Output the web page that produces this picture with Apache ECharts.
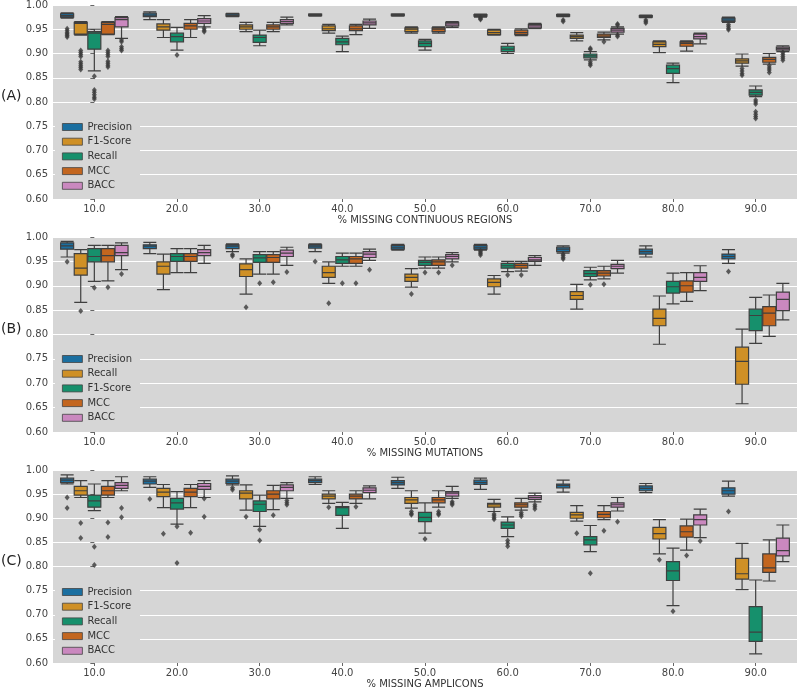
<!DOCTYPE html>
<html><head><meta charset="utf-8">
<script src="https://cdn.jsdelivr.net/npm/echarts@6/dist/echarts.min.js"></script>
<style>html,body{margin:0;padding:0;background:#fff}#c{width:798px;height:690px}</style>
</head><body><div id="c"></div>
<script>
const categories = ['10.0','20.0','30.0','40.0','50.0','60.0','70.0','80.0','90.0'];
const namesA = ['Precision','F1-Score','Recall','MCC','BACC'];
const namesB = ['Precision','Recall','F1-Score','MCC','BACC'];
const namesC = ['Precision','F1-Score','Recall','MCC','BACC'];
const axisNames = ['% MISSING CONTINUOUS REGIONS','% MISSING MUTATIONS','% MISSING AMPLICONS'];
const panelLabels = ['(A)','(B)','(C)'];
const yTicks = [0.60,0.65,0.70,0.75,0.80,0.85,0.90,0.95,1.00];

// boxes: [min, Q1, median, Q3, max]
const A_prec = [[0.973,0.975,0.978,0.982,0.984],[0.970,0.976,0.979,0.983,0.986],[0.976,0.977,0.979,0.982,0.983],[0.977,0.978,0.979,0.981,0.982],[0.977,0.978,0.979,0.981,0.982],[0.975,0.977,0.979,0.980,0.981],[0.976,0.977,0.978,0.980,0.981],[0.974,0.975,0.976,0.978,0.979],[0.964,0.966,0.969,0.973,0.975]];
const A_f1 = [[0.938,0.940,0.962,0.964,0.966],[0.933,0.948,0.955,0.961,0.970],[0.945,0.950,0.955,0.959,0.964],[0.942,0.947,0.951,0.957,0.960],[0.942,0.945,0.950,0.953,0.955],[0.938,0.939,0.943,0.948,0.950],[0.926,0.931,0.935,0.938,0.943],[0.902,0.914,0.919,0.924,0.926],[0.874,0.880,0.885,0.889,0.899]];
const A_rec = [[0.864,0.909,0.942,0.945,0.950],[0.907,0.924,0.935,0.942,0.954],[0.916,0.923,0.933,0.938,0.948],[0.904,0.918,0.924,0.931,0.936],[0.907,0.914,0.921,0.926,0.929],[0.900,0.904,0.909,0.915,0.921],[0.887,0.891,0.895,0.899,0.904],[0.840,0.859,0.869,0.876,0.880],[0.811,0.814,0.820,0.825,0.833]];
const A_mcc = [[0.939,0.940,0.960,0.964,0.966],[0.933,0.950,0.957,0.962,0.970],[0.945,0.950,0.955,0.959,0.964],[0.939,0.947,0.951,0.957,0.960],[0.942,0.945,0.950,0.953,0.955],[0.937,0.939,0.943,0.948,0.951],[0.928,0.933,0.936,0.940,0.944],[0.905,0.915,0.921,0.924,0.926],[0.878,0.882,0.888,0.892,0.900]];
const A_bacc = [[0.931,0.955,0.970,0.974,0.976],[0.955,0.962,0.967,0.972,0.978],[0.959,0.962,0.966,0.970,0.975],[0.952,0.959,0.963,0.967,0.971],[0.954,0.957,0.961,0.964,0.966],[0.951,0.953,0.957,0.960,0.962],[0.940,0.944,0.948,0.952,0.955],[0.920,0.930,0.935,0.940,0.942],[0.904,0.907,0.910,0.913,0.916]];

const B_prec = [[0.959,0.975,0.982,0.988,0.991],[0.966,0.976,0.981,0.984,0.989],[0.970,0.976,0.981,0.984,0.986],[0.970,0.977,0.981,0.984,0.986],[0.973,0.975,0.979,0.983,0.985],[0.973,0.975,0.979,0.983,0.985],[0.967,0.970,0.975,0.979,0.982],[0.959,0.965,0.970,0.975,0.982],[0.946,0.955,0.960,0.965,0.974]];
const B_rec = [[0.866,0.922,0.936,0.966,0.974],[0.892,0.924,0.940,0.949,0.965],[0.883,0.919,0.933,0.945,0.955],[0.905,0.917,0.927,0.940,0.949],[0.897,0.909,0.917,0.924,0.935],[0.883,0.898,0.907,0.914,0.921],[0.852,0.872,0.880,0.888,0.903],[0.780,0.818,0.833,0.852,0.879],[0.658,0.698,0.745,0.774,0.811]];
const B_f1 = [[0.909,0.949,0.960,0.976,0.983],[0.927,0.950,0.960,0.966,0.976],[0.924,0.948,0.957,0.964,0.970],[0.940,0.946,0.953,0.960,0.967],[0.936,0.942,0.948,0.952,0.959],[0.929,0.936,0.941,0.946,0.950],[0.912,0.919,0.925,0.931,0.938],[0.863,0.885,0.898,0.909,0.926],[0.782,0.808,0.839,0.852,0.876]];
const B_mcc = [[0.910,0.949,0.962,0.976,0.983],[0.927,0.950,0.960,0.966,0.976],[0.924,0.948,0.958,0.964,0.970],[0.940,0.946,0.955,0.960,0.967],[0.936,0.942,0.949,0.953,0.959],[0.930,0.936,0.942,0.946,0.950],[0.914,0.920,0.926,0.931,0.940],[0.868,0.887,0.900,0.910,0.927],[0.796,0.818,0.844,0.857,0.881]];
const B_bacc = [[0.933,0.962,0.968,0.983,0.988],[0.946,0.962,0.968,0.974,0.983],[0.942,0.960,0.967,0.973,0.979],[0.952,0.958,0.965,0.970,0.975],[0.949,0.955,0.960,0.964,0.968],[0.942,0.950,0.953,0.958,0.962],[0.926,0.935,0.940,0.944,0.952],[0.890,0.909,0.917,0.927,0.941],[0.830,0.849,0.872,0.887,0.905]];

const C_prec = [[0.971,0.974,0.979,0.983,0.990],[0.964,0.971,0.977,0.981,0.986],[0.969,0.972,0.977,0.981,0.988],[0.970,0.974,0.978,0.981,0.986],[0.962,0.969,0.974,0.978,0.985],[0.960,0.970,0.974,0.979,0.983],[0.954,0.963,0.968,0.971,0.979],[0.953,0.957,0.962,0.967,0.972],[0.946,0.950,0.957,0.963,0.977]];
const C_f1 = [[0.943,0.948,0.957,0.966,0.978],[0.922,0.945,0.954,0.962,0.970],[0.917,0.940,0.952,0.957,0.969],[0.931,0.940,0.946,0.950,0.957],[0.921,0.931,0.938,0.943,0.957],[0.914,0.923,0.928,0.931,0.939],[0.894,0.900,0.907,0.912,0.926],[0.826,0.857,0.868,0.881,0.897],[0.752,0.774,0.785,0.817,0.848]];
const C_rec = [[0.916,0.923,0.936,0.948,0.971],[0.888,0.919,0.932,0.941,0.955],[0.883,0.914,0.929,0.936,0.948],[0.879,0.906,0.922,0.924,0.933],[0.869,0.893,0.902,0.912,0.932],[0.862,0.879,0.886,0.892,0.903],[0.831,0.845,0.855,0.862,0.885],[0.719,0.771,0.791,0.810,0.838],[0.619,0.645,0.664,0.717,0.772]];
const C_mcc = [[0.943,0.948,0.957,0.966,0.978],[0.922,0.945,0.954,0.962,0.970],[0.918,0.940,0.950,0.957,0.968],[0.931,0.940,0.946,0.950,0.957],[0.923,0.932,0.938,0.943,0.957],[0.917,0.923,0.928,0.932,0.941],[0.897,0.901,0.908,0.914,0.926],[0.834,0.861,0.872,0.884,0.898],[0.770,0.788,0.797,0.826,0.855]];
const C_bacc = [[0.957,0.962,0.968,0.974,0.986],[0.943,0.960,0.966,0.972,0.978],[0.941,0.957,0.964,0.969,0.974],[0.940,0.953,0.958,0.963,0.967],[0.941,0.946,0.952,0.955,0.966],[0.934,0.939,0.943,0.947,0.952],[0.915,0.923,0.928,0.932,0.943],[0.860,0.886,0.897,0.907,0.919],[0.810,0.822,0.833,0.859,0.886]];

// outliers: [category index, value]
const A_prec_out = [[0,0.951],[0,0.947],[0,0.943],[0,0.940],[0,0.937],[0,0.934],[5,0.974],[5,0.972],[5,0.970],[6,0.969],[6,0.966],[7,0.969],[7,0.966],[7,0.963],[8,0.960],[8,0.956],[8,0.952],[8,0.949]];
const A_f1_out = [[0,0.906],[0,0.902],[0,0.898],[0,0.894],[0,0.883],[0,0.879],[0,0.875],[0,0.871],[0,0.867],[8,0.869],[8,0.864],[8,0.859],[8,0.855]];
const A_rec_out = [[0,0.853],[0,0.825],[0,0.820],[0,0.815],[0,0.810],[0,0.806],[1,0.897],[6,0.911],[6,0.908],[6,0.883],[6,0.879],[6,0.876],[8,0.804],[8,0.800],[8,0.796],[8,0.780],[8,0.775],[8,0.770],[8,0.766]];
const A_mcc_out = [[0,0.906],[0,0.902],[0,0.898],[0,0.894],[0,0.884],[0,0.880],[0,0.876],[0,0.872],[6,0.924],[8,0.875],[8,0.870],[8,0.866],[8,0.861]];
const A_bacc_out = [[0,0.928],[0,0.924],[0,0.914],[0,0.910],[0,0.906],[1,0.952],[1,0.948],[1,0.945],[6,0.959],[6,0.961],[6,0.938],[6,0.935],[8,0.902],[8,0.898],[8,0.894],[8,0.890],[8,0.886]];

const B_prec_out = [[0,0.949],[2,0.964],[2,0.961],[3,0.950],[5,0.972],[5,0.969],[5,0.966],[5,0.963],[6,0.965],[6,0.962],[6,0.958],[6,0.955],[8,0.929]];
const B_rec_out = [[0,0.848],[2,0.856],[3,0.864],[4,0.883]];
const B_f1_out = [[0,0.896],[2,0.905],[3,0.905],[4,0.927],[5,0.922],[6,0.902]];
const B_mcc_out = [[0,0.897],[2,0.907],[3,0.905],[4,0.927],[5,0.922],[6,0.903]];
const B_bacc_out = [[0,0.924],[2,0.928],[3,0.933],[4,0.942]];

const C_prec_out = [[0,0.943],[0,0.921],[1,0.940],[2,0.963],[2,0.959],[8,0.914]];
const C_f1_out = [[0,0.890],[0,0.859],[1,0.868],[2,0.903],[3,0.923],[4,0.914],[4,0.910],[4,0.907],[5,0.909],[5,0.905],[5,0.901],[5,0.898],[6,0.869],[7,0.814]];
const C_rec_out = [[0,0.841],[0,0.803],[1,0.883],[1,0.807],[2,0.876],[2,0.854],[4,0.857],[5,0.854],[5,0.848],[5,0.842],[6,0.786],[7,0.707]];
const C_mcc_out = [[0,0.891],[0,0.861],[1,0.870],[2,0.906],[3,0.924],[4,0.914],[4,0.910],[4,0.907],[5,0.912],[5,0.908],[5,0.904],[6,0.874],[7,0.823]];
const C_bacc_out = [[0,0.921],[0,0.902],[1,0.941],[1,0.903],[2,0.937],[2,0.932],[2,0.928],[4,0.934],[4,0.931],[4,0.928],[5,0.928],[5,0.924],[5,0.919],[6,0.893],[7,0.853]];

const colorOrder = ['#1b6fa0','#cf9026','#16906c','#c3661f','#ca88bf'];

const panels = [
  {names:namesA, boxes:[A_prec,A_f1,A_rec,A_mcc,A_bacc], outs:[A_prec_out,A_f1_out,A_rec_out,A_mcc_out,A_bacc_out]},
  {names:namesB, boxes:[B_prec,B_rec,B_f1,B_mcc,B_bacc], outs:[B_prec_out,B_rec_out,B_f1_out,B_mcc_out,B_bacc_out]},
  {names:namesC, boxes:[C_prec,C_f1,C_rec,C_mcc,C_bacc], outs:[C_prec_out,C_f1_out,C_rec_out,C_mcc_out,C_bacc_out]}
];

const FONT = 'DejaVu Sans';
const BG = '#d6d6d6';
const gridLeft = 53, gridRight = 1, gridW = 798 - gridLeft - gridRight;
const grids = [{top:5,height:194},{top:237,height:195},{top:470,height:193}];
const legendTops = [119, 351, 584];
const labelYs = [97, 330, 562];

// ECharts boxplot side-by-side offset (in band units)
const bw = gridW / categories.length;
const avail = bw * 0.8 - 2;
const stepFrac = (avail * 0.212) / bw;

const option = {
  backgroundColor: '#ffffff',
  animation: false,
  textStyle: {fontFamily: FONT},
  grid: grids.map(g => ({left:gridLeft, right:gridRight, top:g.top, height:g.height, show:true, backgroundColor:BG, borderWidth:0})),
  xAxis: [], yAxis: [], series: [], legend: [],
  graphic: panelLabels.map((t,i) => ({type:'text', left:1, top:labelYs[i]-8, style:{text:t, font:'14px "DejaVu Sans"', fill:'#222'}}))
};

panels.forEach((p, pi) => {
  option.xAxis.push({
    type:'category', gridIndex:pi, data:categories,
    axisLine:{show:false}, axisTick:{show:true, alignWithLabel:true, length:3, lineStyle:{color:'#666'}},
    axisLabel:{color:'#444', fontSize:10, margin:5},
    name: axisNames[pi], nameLocation:'middle', nameGap:16,
    nameTextStyle:{color:'#333', fontSize:10}
  });
  option.xAxis.push({type:'value', gridIndex:pi, min:-0.5, max:categories.length-0.5, show:false});
  option.yAxis.push({
    type:'value', gridIndex:pi, min:0.6, max:1.0, interval:0.05,
    axisLine:{show:false}, axisTick:{show:true, length:4, lineStyle:{color:'#666'}},
    axisLabel:{color:'#444', fontSize:10, margin:5, formatter: v => v.toFixed(2)},
    splitLine:{show:true, lineStyle:{color:'#ffffff', width:1}}
  });
  p.names.forEach((n, k) => {
    option.series.push({
      type:'boxplot', name:n, xAxisIndex:pi*2, yAxisIndex:pi,
      boxWidth:[13,13], data:p.boxes[k], silent:true,
      itemStyle:{color:colorOrder[k], borderColor:'#3f3f3f', borderWidth:1.2},
      emphasis:{disabled:true}, z:3
    });
    option.series.push({
      type:'scatter', name:n + ' outliers', xAxisIndex:pi*2+1, yAxisIndex:pi,
      symbol:'diamond', symbolSize:[5,6], silent:true,
      itemStyle:{color:'#3a3a3a'},
      data:p.outs[k].map(d => [d[0] + (k-2)*stepFrac, d[1]]), z:4
    });
  });
  option.legend.push({
    orient:'vertical', left:55, top:legendTops[pi],
    backgroundColor:BG, padding:[3,8,4,7], itemWidth:20, itemHeight:7, itemGap:4.7,
    icon:'rect', selectedMode:false,
    textStyle:{color:'#333', fontSize:10, fontFamily:FONT},
    data:p.names.map((n,k) => ({name:n, itemStyle:{color:colorOrder[k], borderColor:'#444', borderWidth:0.8}}))
  });
});

const chart = echarts.init(document.getElementById('c'), null, {renderer:'canvas'});
chart.setOption(option);
</script>
</body></html>
